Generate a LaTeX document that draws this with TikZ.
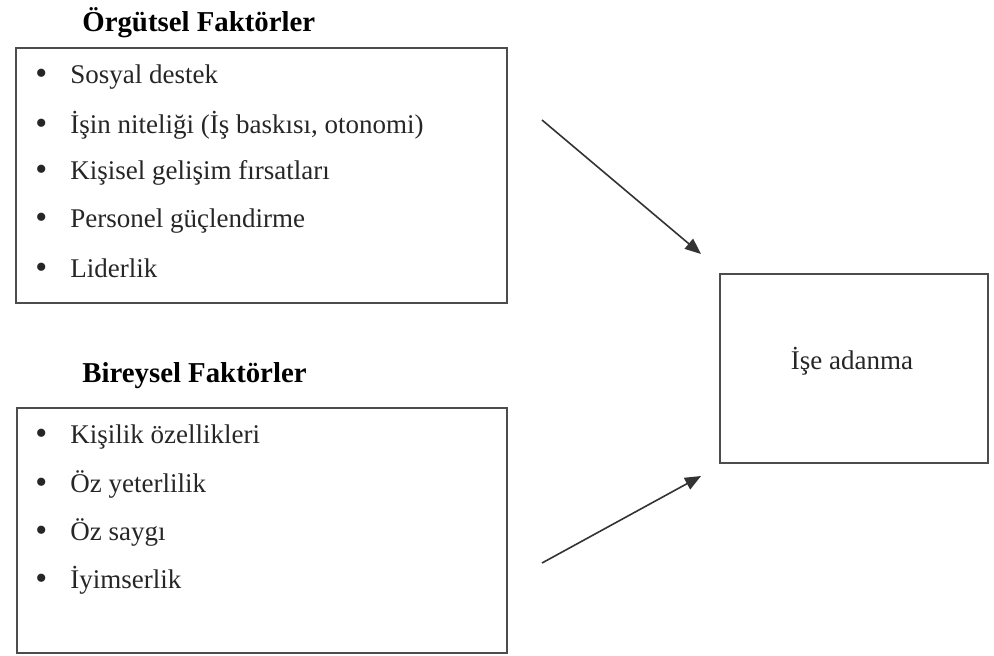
\documentclass[tikz,border=0pt]{standalone}
\usepackage{fontspec}
\setmainfont{Liberation Serif}
\usetikzlibrary{arrows.meta}

\tikzset{
  factorbox/.style={draw=black!70, line width=0.9pt, anchor=north west, inner sep=0pt},
  itemnode/.style={anchor=west, inner sep=0pt, font=\fontsize{13.5}{15}\selectfont, text=black!85},
  titlenode/.style={anchor=west, inner sep=0pt, font=\fontsize{14.4}{17}\selectfont\bfseries},
  arrowline/.style={draw=black!80, line width=0.8pt, -{Triangle[length=8pt,width=6.5pt]}}
}
\newcommand{\bulletitem}{\makebox[17.5pt][l]{\fontsize{17}{17}\selectfont\raisebox{-0.6pt}{\textbullet}}}

\begin{document}
\begin{tikzpicture}[x=0.5pt, y=-0.5pt]
  \useasboundingbox (0,0) rectangle (994,655);

  % organisational factors
  \node[titlenode] (orgtitle) at (82,23) {Örgütsel Faktörler};
  \node[factorbox, minimum width=245.5pt, minimum height=127.5pt] (orgbox) at (15,47) {};
  \node[itemnode] (org1) at (35,77)  {\bulletitem Sosyal destek};
  \node[itemnode] (org2) at (35,125) {\bulletitem İşin niteliği (İş baskısı, otonomi)};
  \node[itemnode] (org3) at (35,173) {\bulletitem Kişisel gelişim fırsatları};
  \node[itemnode] (org4) at (35,221) {\bulletitem Personel güçlendirme};
  \node[itemnode] (org5) at (35,269) {\bulletitem Liderlik};

  % individual factors
  \node[titlenode] (indtitle) at (82,376) {Bireysel Faktörler};
  \node[factorbox, minimum width=245pt, minimum height=122.5pt] (indbox) at (16,407) {};
  \node[itemnode] (ind1) at (35,437) {\bulletitem Kişilik özellikleri};
  \node[itemnode] (ind2) at (35,484) {\bulletitem Öz yeterlilik};
  \node[itemnode] (ind3) at (35,532) {\bulletitem Öz saygı};
  \node[itemnode] (ind4) at (35,580) {\bulletitem İyimserlik};

  % outcome
  \node[factorbox, minimum width=134pt, minimum height=94.5pt] (work) at (719,273) {};
  \node[itemnode, anchor=center] (worktext) at (852,361) {İşe adanma};

  % arrows
  \coordinate (orgend) at (542,120);
  \coordinate (orghead) at (701,254);
  \coordinate (indend) at (542,563);
  \coordinate (indhead) at (701,476);
  \draw[arrowline] (orgend) -- (orghead);
  \draw[arrowline] (indend) -- (indhead);
\end{tikzpicture}
\end{document}
